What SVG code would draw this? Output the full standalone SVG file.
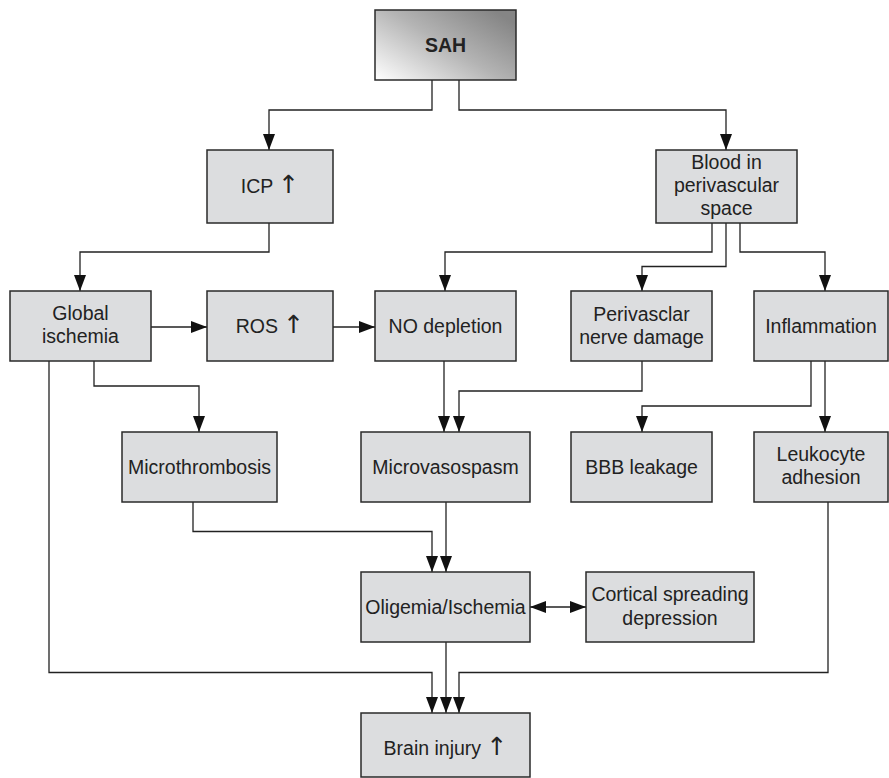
<svg xmlns="http://www.w3.org/2000/svg" width="889" height="778" viewBox="0 0 889 778">
<style>
.box{fill:#dcdddf;stroke:#2a2a2a;stroke-width:1.5}
.t{font-family:"Liberation Sans",Arial,sans-serif;font-size:19.5px;fill:#222;text-anchor:middle}
.up{font-family:"DejaVu Sans",sans-serif;font-size:25px;fill:#222}
.c{fill:none;stroke:#222;stroke-width:1.3}
</style>
<defs>
<linearGradient id="g" x1="0" y1="1" x2="1" y2="0.2">
<stop offset="0" stop-color="#ffffff"/>
<stop offset="0.55" stop-color="#b4b4b4"/>
<stop offset="1" stop-color="#858585"/>
</linearGradient>
<marker id="a" viewBox="0 0 16 12" refX="16" refY="6" markerWidth="16" markerHeight="12" markerUnits="userSpaceOnUse" orient="auto-start-reverse">
<path d="M0,0 L16,6 L0,12 z" fill="#111"/>
</marker>
</defs>
<g id="connectors">
<path class="c" d="M432,80 V110 H269 V150" marker-end="url(#a)"/>
<path class="c" d="M459,80 V110 H726 V150" marker-end="url(#a)"/>
<path class="c" d="M269,223 V252 H80 V291" marker-end="url(#a)"/>
<path class="c" d="M712,223 V252 H445 V291" marker-end="url(#a)"/>
<path class="c" d="M726,223 V266.5 H642 V291" marker-end="url(#a)"/>
<path class="c" d="M740,223 V252 H825 V291" marker-end="url(#a)"/>
<path class="c" d="M151,327 H207" marker-end="url(#a)"/>
<path class="c" d="M333,327 H375" marker-end="url(#a)"/>
<path class="c" d="M94,361 V386 H199 V432" marker-end="url(#a)"/>
<path class="c" d="M444,361 V432" marker-end="url(#a)"/>
<path class="c" d="M642,361 V391 H459 V432" marker-end="url(#a)"/>
<path class="c" d="M811,361 V406 H642 V432" marker-end="url(#a)"/>
<path class="c" d="M825,361 V432" marker-end="url(#a)"/>
<path class="c" d="M193,502 V531.5 H432 V572" marker-end="url(#a)"/>
<path class="c" d="M446,502 V572" marker-end="url(#a)"/>
<path class="c" d="M530,607 H586" marker-start="url(#a)" marker-end="url(#a)"/>
<path class="c" d="M49,361 V672.5 H432 V713" marker-end="url(#a)"/>
<path class="c" d="M446,642 V713" marker-end="url(#a)"/>
<path class="c" d="M828,502 V672.5 H459 V713" marker-end="url(#a)"/>
</g>
<g id="sah"><rect x="375" y="10" width="141" height="70" fill="url(#g)" stroke="#2a2a2a" stroke-width="1.5"/><text class="t" x="445.5" y="52" font-weight="bold">SAH</text></g>
<g id="icp"><rect class="box" x="207" y="150" width="126" height="73"/><text class="t" x="270" y="193">ICP <tspan class="up">↑</tspan></text></g>
<g id="blood"><rect class="box" x="656" y="150" width="141" height="73"/><text class="t" x="726.5" y="169">Blood in</text><text class="t" x="726.5" y="192">perivascular</text><text class="t" x="726.5" y="215">space</text></g>
<g id="global"><rect class="box" x="10" y="291" width="141" height="70"/><text class="t" x="80.5" y="320">Global</text><text class="t" x="80.5" y="343">ischemia</text></g>
<g id="ros"><rect class="box" x="207" y="291" width="126" height="70"/><text class="t" x="270" y="333">ROS <tspan class="up">↑</tspan></text></g>
<g id="no"><rect class="box" x="375" y="291" width="141" height="70"/><text class="t" x="445.5" y="333">NO depletion</text></g>
<g id="nerve"><rect class="box" x="571" y="291" width="141" height="70"/><text class="t" x="641.5" y="321">Perivasclar</text><text class="t" x="641.5" y="344">nerve damage</text></g>
<g id="inflammation"><rect class="box" x="754" y="291" width="134" height="70"/><text class="t" x="821" y="333">Inflammation</text></g>
<g id="microthrombosis"><rect class="box" x="122" y="432" width="155" height="70"/><text class="t" x="199.5" y="474">Microthrombosis</text></g>
<g id="microvasospasm"><rect class="box" x="361" y="432" width="169" height="70"/><text class="t" x="445.5" y="474">Microvasospasm</text></g>
<g id="bbb"><rect class="box" x="571" y="432" width="141" height="70"/><text class="t" x="641.5" y="474">BBB leakage</text></g>
<g id="leukocyte"><rect class="box" x="754" y="432" width="134" height="70"/><text class="t" x="821" y="461">Leukocyte</text><text class="t" x="821" y="484">adhesion</text></g>
<g id="oligemia"><rect class="box" x="361" y="572" width="169" height="70"/><text class="t" x="445.5" y="614">Oligemia/Ischemia</text></g>
<g id="csd"><rect class="box" x="586" y="572" width="168" height="70"/><text class="t" x="670" y="601">Cortical spreading</text><text class="t" x="670" y="625">depression</text></g>
<g id="brain"><rect class="box" x="361" y="713" width="169" height="64"/><text class="t" x="445.5" y="755">Brain injury <tspan class="up">↑</tspan></text></g>
</svg>
